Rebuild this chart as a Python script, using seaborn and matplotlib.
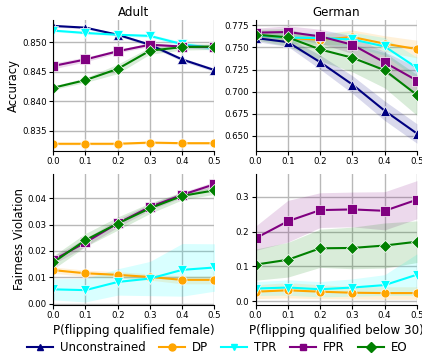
import numpy as np
import pandas as pd
import seaborn as sns
import matplotlib.pyplot as plt

x = [0.0, 0.1, 0.2, 0.3, 0.4, 0.5]
methods = ['Unconstrained', 'DP', 'TPR', 'FPR', 'EO']
colors = {'Unconstrained': 'navy', 'DP': 'orange', 'TPR': 'cyan', 'FPR': 'purple', 'EO': 'green'}
markers = {'Unconstrained': '^', 'DP': 'o', 'TPR': 'v', 'FPR': 's', 'EO': 'D'}

# Adult accuracy
adult_acc = {
    'Unconstrained': [0.8528, 0.8525, 0.8513, 0.8496, 0.8471, 0.8453],
    'DP': [0.8328, 0.8328, 0.8328, 0.8330, 0.8329, 0.8329],
    'TPR': [0.8520, 0.8516, 0.8513, 0.8511, 0.8497, 0.8490],
    'FPR': [0.8460, 0.8471, 0.8485, 0.8496, 0.8493, 0.8492],
    'EO': [0.8423, 0.8436, 0.8455, 0.8486, 0.8492, 0.8493],
}
adult_acc_sd = {
    'Unconstrained': [0.0002, 0.0002, 0.0002, 0.0003, 0.0003, 0.0003],
    'DP': [0.0002, 0.0002, 0.0002, 0.0002, 0.0002, 0.0002],
    'TPR': [0.0002, 0.0002, 0.0002, 0.0003, 0.0004, 0.0004],
    'FPR': [0.0005, 0.0004, 0.0003, 0.0003, 0.0003, 0.0003],
    'EO': [0.0003, 0.0004, 0.0008, 0.0006, 0.0005, 0.0005],
}
# German accuracy
german_acc = {
    'Unconstrained': [0.7606, 0.7560, 0.7333, 0.7080, 0.6784, 0.6526],
    'DP': [0.7644, 0.7606, 0.7587, 0.7617, 0.7542, 0.7481],
    'TPR': [0.7640, 0.7610, 0.7606, 0.7590, 0.7511, 0.7269],
    'FPR': [0.7667, 0.7674, 0.7625, 0.7530, 0.7330, 0.7125],
    'EO': [0.7644, 0.7614, 0.7477, 0.7383, 0.7242, 0.6962],
}
german_acc_sd = {
    'Unconstrained': [0.004, 0.005, 0.008, 0.010, 0.011, 0.011],
    'DP': [0.004, 0.006, 0.006, 0.008, 0.009, 0.010],
    'TPR': [0.004, 0.006, 0.007, 0.008, 0.010, 0.012],
    'FPR': [0.005, 0.007, 0.008, 0.010, 0.012, 0.015],
    'EO': [0.006, 0.010, 0.013, 0.016, 0.020, 0.023],
}
# Adult fairness violation
adult_fv = {
    'DP': [0.0127, 0.0115, 0.0109, 0.0101, 0.0090, 0.0090],
    'TPR': [0.0054, 0.0051, 0.0082, 0.0095, 0.0128, 0.0137],
    'FPR': [0.0165, 0.0232, 0.0305, 0.0367, 0.0413, 0.0453],
    'EO': [0.0156, 0.0241, 0.0304, 0.0362, 0.0409, 0.0430],
}
adult_fv_sd = {
    'DP': [0.0012, 0.0012, 0.0012, 0.0012, 0.0015, 0.0015],
    'TPR': [0.0040, 0.0045, 0.0050, 0.0065, 0.0100, 0.0090],
    'FPR': [0.0015, 0.0015, 0.0015, 0.0012, 0.0010, 0.0010],
    'EO': [0.0025, 0.0025, 0.0025, 0.0020, 0.0015, 0.0015],
}
# German fairness violation
german_fv = {
    'DP': [0.027, 0.031, 0.027, 0.024, 0.023, 0.023],
    'TPR': [0.036, 0.039, 0.034, 0.039, 0.046, 0.076],
    'FPR': [0.181, 0.230, 0.262, 0.264, 0.260, 0.292],
    'EO': [0.105, 0.119, 0.152, 0.153, 0.160, 0.171],
}
german_fv_sd = {
    'DP': [0.020, 0.022, 0.020, 0.018, 0.018, 0.018],
    'TPR': [0.020, 0.022, 0.022, 0.025, 0.030, 0.060],
    'FPR': [0.035, 0.060, 0.050, 0.050, 0.055, 0.055],
    'EO': [0.045, 0.050, 0.055, 0.060, 0.065, 0.060],
}

panels = [
    (adult_acc, adult_acc_sd, 'Adult', 'Accuracy', None, (0.8316, 0.8538), [0.835, 0.840, 0.845, 0.850], '{:.3f}'),
    (german_acc, german_acc_sd, 'German', None, None, (0.633, 0.781), [0.650, 0.675, 0.700, 0.725, 0.750, 0.775], '{:.3f}'),
    (adult_fv, adult_fv_sd, None, 'Fairness Violation', 'P(flipping qualified female)', (-0.0005, 0.0492), [0.00, 0.01, 0.02, 0.03, 0.04], '{:.2f}'),
    (german_fv, german_fv_sd, None, None, 'P(flipping qualified below 30)', (-0.011, 0.366), [0.0, 0.1, 0.2, 0.3], '{:.1f}'),
]

plt.rcParams['font.family'] = ['DejaVu Sans']
fig, axes = plt.subplots(2, 2, figsize=(4.22, 3.57), dpi=100)
plt.subplots_adjust(left=0.126, right=0.988, top=0.944, bottom=0.146, wspace=0.255, hspace=0.177)

for ax, (vals, sds, title, ylab, xlab, ylim, yt, fmt) in zip(axes.flat, panels):
    for m in methods:
        if m not in vals:
            continue
        v = np.array(vals[m])
        s = np.array(sds[m])
        ax.fill_between(x, v - s, v + s, color=colors[m], alpha=0.15, linewidth=0)
        df = pd.DataFrame({'x': x, 'y': v})
        sns.lineplot(data=df, x='x', y='y', ax=ax, color=colors[m], marker=markers[m],
                     markersize=6.5, markeredgewidth=0.5, linewidth=1.5, errorbar=None)
    ax.set_xlim(0, 0.5)
    ax.set_ylim(*ylim)
    ax.set_xticks(x)
    ax.set_xticklabels(['{:.1f}'.format(t) for t in x], fontsize=6.2)
    ax.set_yticks(yt)
    ax.set_yticklabels([fmt.format(t) for t in yt], fontsize=6.2)
    ax.grid(True, color='#b8b8b8', linewidth=1)
    ax.set_axisbelow(True)
    for sp in ['top', 'right']:
        ax.spines[sp].set_visible(False)
    ax.tick_params(length=3, pad=1.5)
    ax.set_title(title if title else '', fontsize=8.6, pad=3)
    ax.set_ylabel(ylab if ylab else '', fontsize=8.4, labelpad=1.5)
    ax.set_xlabel(xlab if xlab else '', fontsize=8.6, labelpad=3)

handles = [plt.Line2D([], [], color=colors[m], marker=markers[m], markersize=5, linewidth=1.5) for m in methods]
fig.legend(handles, methods, loc='center', bbox_to_anchor=(0.515, 0.026), ncol=5, frameon=False,
           fontsize=8.5, handlelength=2.2, columnspacing=1.1, handletextpad=0.6)

fig.savefig('out.png', dpi=100)
